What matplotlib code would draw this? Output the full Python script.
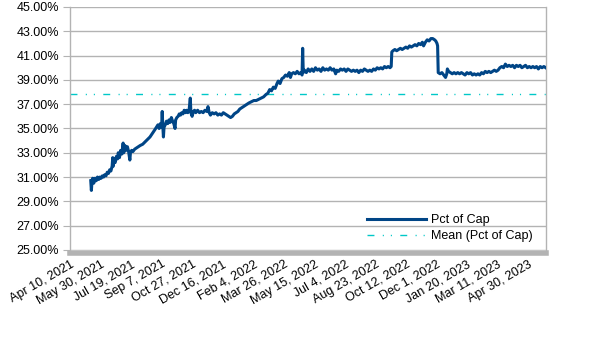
import pandas as pd
import matplotlib
matplotlib.use("Agg")
import matplotlib.pyplot as plt
import matplotlib.dates as mdates

# values
dates = ["2021-05-14", "2021-05-15", "2021-05-16", "2021-05-17", "2021-05-19", "2021-05-21", "2021-05-23", "2021-05-25",
         "2021-05-27", "2021-05-29", "2021-05-31", "2021-06-02", "2021-06-04", "2021-06-06", "2021-06-08", "2021-06-10",
         "2021-06-12", "2021-06-14", "2021-06-16", "2021-06-18", "2021-06-19", "2021-06-20", "2021-06-21", "2021-06-23",
         "2021-06-25", "2021-06-27", "2021-06-28", "2021-06-30", "2021-07-02", "2021-07-04", "2021-07-06", "2021-07-07",
         "2021-07-09", "2021-07-11", "2021-07-13", "2021-07-15", "2021-07-17", "2021-07-18", "2021-07-20", "2021-07-22",
         "2021-07-25", "2021-07-28", "2021-07-31", "2021-08-03", "2021-08-07", "2021-08-11", "2021-08-15", "2021-08-19",
         "2021-08-23", "2021-08-27", "2021-09-01", "2021-09-03", "2021-09-05", "2021-09-07", "2021-09-08", "2021-09-09",
         "2021-09-10", "2021-09-11", "2021-09-13", "2021-09-15", "2021-09-17", "2021-09-19", "2021-09-21", "2021-09-23",
         "2021-09-25", "2021-09-27", "2021-09-29", "2021-09-30", "2021-10-02", "2021-10-04", "2021-10-06", "2021-10-08",
         "2021-10-10", "2021-10-12", "2021-10-14", "2021-10-16", "2021-10-18", "2021-10-20", "2021-10-22", "2021-10-24",
         "2021-10-25", "2021-10-27", "2021-10-29", "2021-10-31", "2021-11-02", "2021-11-05", "2021-11-08", "2021-11-11",
         "2021-11-14", "2021-11-17", "2021-11-20", "2021-11-22", "2021-11-24", "2021-11-26", "2021-11-29", "2021-12-02",
         "2021-12-05", "2021-12-08", "2021-12-11", "2021-12-14", "2021-12-17", "2021-12-20", "2021-12-23", "2021-12-26",
         "2021-12-29", "2022-01-01", "2022-01-04", "2022-01-07", "2022-01-10", "2022-01-13", "2022-01-16", "2022-01-19",
         "2022-01-22", "2022-01-25", "2022-01-28", "2022-02-01", "2022-02-05", "2022-02-09", "2022-02-13", "2022-02-17",
         "2022-02-21", "2022-02-25", "2022-02-28", "2022-03-03", "2022-03-06", "2022-03-09", "2022-03-12", "2022-03-15",
         "2022-03-17", "2022-03-20", "2022-03-23", "2022-03-26", "2022-03-29", "2022-04-01", "2022-04-04", "2022-04-06",
         "2022-04-08", "2022-04-11", "2022-04-14", "2022-04-17", "2022-04-20", "2022-04-23", "2022-04-25", "2022-04-26",
         "2022-04-27", "2022-04-29", "2022-05-02", "2022-05-05", "2022-05-08", "2022-05-11", "2022-05-14", "2022-05-17",
         "2022-05-20", "2022-05-23", "2022-05-26", "2022-05-29", "2022-06-01", "2022-06-04", "2022-06-07", "2022-06-10",
         "2022-06-13", "2022-06-16", "2022-06-19", "2022-06-21", "2022-06-24", "2022-06-27", "2022-06-30", "2022-07-03",
         "2022-07-06", "2022-07-09", "2022-07-12", "2022-07-15", "2022-07-18", "2022-07-21", "2022-07-24", "2022-07-27",
         "2022-07-30", "2022-08-02", "2022-08-05", "2022-08-08", "2022-08-11", "2022-08-14", "2022-08-17", "2022-08-20",
         "2022-08-23", "2022-08-26", "2022-08-29", "2022-09-01", "2022-09-04", "2022-09-07", "2022-09-10", "2022-09-13",
         "2022-09-16", "2022-09-18", "2022-09-19", "2022-09-21", "2022-09-24", "2022-09-27", "2022-09-30", "2022-10-03",
         "2022-10-06", "2022-10-09", "2022-10-12", "2022-10-15", "2022-10-18", "2022-10-21", "2022-10-24", "2022-10-27",
         "2022-10-30", "2022-11-02", "2022-11-05", "2022-11-08", "2022-11-10", "2022-11-13", "2022-11-16", "2022-11-19",
         "2022-11-22", "2022-11-25", "2022-11-28", "2022-11-30", "2022-12-02", "2022-12-03", "2022-12-04", "2022-12-07",
         "2022-12-10", "2022-12-13", "2022-12-16", "2022-12-18", "2022-12-19", "2022-12-21", "2022-12-24", "2022-12-27",
         "2022-12-30", "2023-01-02", "2023-01-05", "2023-01-08", "2023-01-11", "2023-01-14", "2023-01-17", "2023-01-20",
         "2023-01-23", "2023-01-26", "2023-01-29", "2023-02-01", "2023-02-04", "2023-02-07", "2023-02-10", "2023-02-13",
         "2023-02-16", "2023-02-19", "2023-02-22", "2023-02-25", "2023-02-28", "2023-03-03", "2023-03-06", "2023-03-09",
         "2023-03-12", "2023-03-15", "2023-03-18", "2023-03-21", "2023-03-24", "2023-03-27", "2023-03-30", "2023-04-02",
         "2023-04-05", "2023-04-08", "2023-04-11", "2023-04-14", "2023-04-17", "2023-04-20", "2023-04-23", "2023-04-26",
         "2023-04-29", "2023-05-02", "2023-05-05", "2023-05-08", "2023-05-11", "2023-05-14", "2023-05-17", "2023-05-20",
         "2023-05-23", "2023-05-26", "2023-05-29"]
pct = [30.7, 29.9, 30.6, 30.9, 30.5, 30.9, 30.7, 31.0,
       30.8, 31.0, 30.9, 31.1, 31.0, 31.2, 31.1, 31.4,
       31.3, 31.6, 31.5, 31.9, 32.6, 31.9, 32.5, 32.2,
       32.7, 32.5, 33.0, 32.6, 33.2, 32.9, 33.8, 33.0,
       33.6, 33.2, 33.5, 33.1, 32.4, 33.0, 33.2, 33.1,
       33.3, 33.4, 33.5, 33.6, 33.7, 33.9, 34.1, 34.3,
       34.6, 34.9, 35.3, 35.0, 35.4, 35.1, 36.4, 35.2,
       34.3, 35.1, 35.3, 35.6, 35.4, 35.7, 35.5, 35.9,
       35.6, 35.4, 35.0, 35.7, 35.9, 36.0, 36.2, 36.1,
       36.3, 36.2, 36.5, 36.3, 36.5, 36.3, 36.5, 37.5,
       36.3, 36.0, 36.4, 36.5, 36.3, 36.5, 36.3, 36.4,
       36.3, 36.5, 36.4, 36.8, 36.3, 36.1, 36.3, 36.2,
       36.3, 36.1, 36.2, 36.1, 36.3, 36.2, 36.1, 36.0,
       35.9, 36.0, 36.2, 36.3, 36.4, 36.6, 36.7, 36.8,
       36.9, 37.0, 37.1, 37.2, 37.3, 37.3, 37.4, 37.5,
       37.6, 37.8, 37.9, 38.2, 38.1, 38.4, 38.3, 38.7,
       38.9, 38.7, 39.1, 39.2, 39.4, 39.3, 39.6, 39.2,
       39.5, 39.6, 39.5, 39.7, 39.5, 39.6, 39.4, 41.6,
       39.6, 39.8, 39.6, 39.9, 39.7, 39.9, 39.7, 40.0,
       39.8, 39.9, 39.7, 40.0, 39.8, 39.9, 39.8, 40.0,
       39.8, 39.9, 39.5, 39.8, 39.7, 39.9, 39.8, 39.9,
       39.7, 39.9, 39.8, 39.7, 39.8, 39.7, 39.8, 39.6,
       39.8, 39.7, 39.9, 39.8, 39.7, 39.8, 39.7, 39.9,
       39.8, 40.0, 39.9, 40.0, 39.9, 40.1, 40.0, 40.1,
       40.0, 40.1, 41.3, 41.4, 41.5, 41.4, 41.5, 41.6,
       41.5, 41.6, 41.7, 41.6, 41.8, 41.7, 41.8, 41.9,
       41.8, 42.0, 41.9, 42.1, 41.8, 42.1, 42.3, 42.2,
       42.4, 42.4, 42.3, 42.2, 42.0, 41.8, 39.6, 39.5,
       39.6, 39.4, 39.2, 39.5, 39.9, 39.7, 39.6, 39.5,
       39.6, 39.5, 39.6, 39.5, 39.6, 39.5, 39.4, 39.6,
       39.5, 39.6, 39.4, 39.5, 39.4, 39.5, 39.4, 39.6,
       39.5, 39.7, 39.6, 39.7, 39.6, 39.7, 39.8, 39.7,
       39.8, 40.0, 40.1, 40.0, 40.3, 40.1, 40.2, 40.1,
       40.2, 40.0, 40.2, 40.1, 40.2, 40.0, 40.1, 40.2,
       40.0, 40.1, 40.0, 40.1, 40.0, 40.1, 39.9, 40.1,
       40.0, 40.1, 40.0]
mean_pct = 37.84

tick_dates = pd.date_range("2021-04-10", periods=16, freq="50D")
tick_labels = ["Apr 10, 2021", "May 30, 2021", "Jul 19, 2021", "Sep 7, 2021", "Oct 27, 2021",
               "Dec 16, 2021", "Feb 4, 2022", "Mar 26, 2022", "May 15, 2022", "Jul 4, 2022",
               "Aug 23, 2022", "Oct 12, 2022", "Dec 1, 2022", "Jan 20, 2023", "Mar 11, 2023",
               "Apr 30, 2023"]
y_ticks = [25, 27, 29, 31, 33, 35, 37, 39, 41, 43, 45]

plt.rcParams['font.family'] = ['Liberation Sans', 'DejaVu Sans']
plt.rcParams['font.size'] = 9

x = mdates.datestr2num(dates)
xt = mdates.date2num(tick_dates.to_pydatetime())

fig = plt.figure(figsize=(6.06, 3.41), dpi=100)
ax = fig.add_axes([0.1155, 0.267, 0.786, 0.7125])

# spines first: set_position() resets the ticks
for s in ['left', 'right']:
    ax.spines[s].set_color('#b3b3b3')
    ax.spines[s].set_linewidth(1.0)
ax.spines['top'].set_visible(False)
ax.spines['bottom'].set_color('#b3b3b3')
ax.spines['bottom'].set_linewidth(4)
ax.spines['bottom'].set_position(('outward', 2))

ax.plot(x, pct, color='#004586', lw=2.2, label='Pct of Cap', zorder=3)
ax.axhline(mean_pct, color='#00c8c8', lw=1.0, dashes=(5, 6, 0.8, 5, 0.8, 6),
           label='Mean (Pct of Cap)', zorder=2)

ax.set_xlim(mdates.datestr2num("2021-04-10"), mdates.datestr2num("2023-05-30"))
ax.set_ylim(25, 45)
ax.tick_params(axis='x', length=0, pad=4)
ax.tick_params(axis='y', length=5, color='#b3b3b3', pad=3)
ax.set_yticks(y_ticks)
ax.set_yticklabels(["%.2f%%" % v for v in y_ticks])
ax.set_xticks(xt)
ax.set_xticklabels(tick_labels, rotation=30, ha='right', rotation_mode='anchor')
ax.grid(axis='y', color='#b3b3b3', lw=1.0)
ax.set_axisbelow(True)

ax.legend(loc='lower right', bbox_to_anchor=(0.99, -0.005), frameon=False,
          handlelength=4.7, handletextpad=0.4, labelspacing=0.35, borderaxespad=0.3)

fig.savefig('out.png', dpi=100)
